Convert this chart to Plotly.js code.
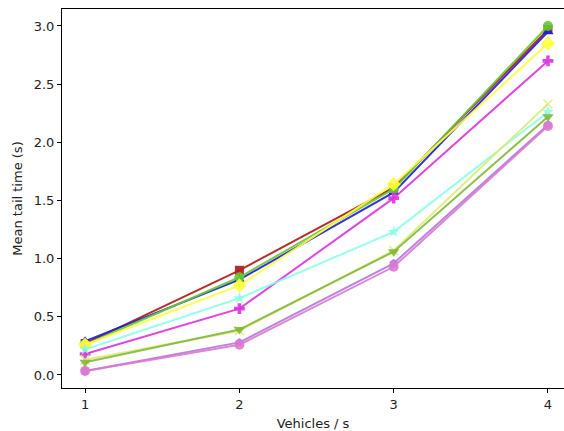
<!DOCTYPE html>
<html>
<head>
<meta charset="utf-8">
<script src="https://cdn.plot.ly/plotly-3.0.1.min.js"></script>
<style>html,body{margin:0;padding:0;background:#fff;}#chart{width:564px;height:431px;}</style>
</head>
<body>
<div id="chart"></div>
<script>
const xValues = [1, 2, 3, 4];
const seriesRed     = [0.27, 0.90, 1.61, 2.97];
const seriesBlue    = [0.29, 0.82, 1.57, 2.95];
const seriesGreen   = [0.26, 0.84, 1.60, 3.00];
const seriesYellow  = [0.26, 0.77, 1.64, 2.85];
const seriesMagenta = [0.18, 0.57, 1.52, 2.70];
const seriesCyan    = [0.22, 0.66, 1.23, 2.26];
const seriesKhaki   = [0.13, 0.38, 1.07, 2.33];
const seriesOlive   = [0.11, 0.39, 1.06, 2.22];
const seriesViolet  = [0.035, 0.28, 0.96, 2.15];
const seriesOrchid  = [0.035, 0.26, 0.93, 2.14];
const yTickVals = [0, 0.5, 1, 1.5, 2, 2.5, 3];
const yTickText = ["0.0", "0.5", "1.0", "1.5", "2.0", "2.5", "3.0"];
const xTickVals = [1, 2, 3, 4];
const xTickText = ["1", "2", "3", "4"];

const defs = [
  [seriesRed, 'rgba(178,34,34,0.95)', 'square', 9],
  [seriesBlue, 'rgba(30,30,210,0.9)', 'triangle-up', 10],
  [seriesGreen, 'rgba(100,200,50,0.9)', 'circle', 10],
  [seriesYellow, 'rgba(255,255,60,0.9)', 'diamond', 11],
  [seriesMagenta, 'rgba(220,50,220,0.9)', 'cross', 9],
  [seriesCyan, 'rgba(130,255,230,0.85)', 'star', 9],
  [seriesKhaki, 'rgba(220,235,120,0.9)', 'x-thin-open', 9],
  [seriesOlive, 'rgba(130,185,60,0.9)', 'triangle-down', 10],
  [seriesViolet, 'rgba(180,120,220,0.9)', 'pentagon', 9],
  [seriesOrchid, 'rgba(220,120,210,0.9)', 'circle', 10]
];
const traces = defs.map(d => ({
  x: xValues, y: d[0], type: 'scatter', mode: 'lines+markers',
  line: {color: d[1], width: 2},
  marker: {symbol: d[2], size: d[3], color: d[1], line: {color: d[1], width: d[2].indexOf('open')>=0 ? 1.5 : 0}},
  showlegend: false
}));

const font = {family: 'DejaVu Sans, sans-serif', size: 13, color: '#222'};
Plotly.newPlot('chart', traces, {
  width: 564, height: 431,
  margin: {l: 62, r: 0, t: 9, b: 43},
  paper_bgcolor: '#fff', plot_bgcolor: '#fff',
  font: font,
  xaxis: {
    range: [0.85, 4.104], tickvals: xTickVals, ticktext: xTickText,
    showgrid: false, zeroline: false, showline: true, mirror: true, linecolor: '#000', linewidth: 1,
    ticks: 'outside', ticklen: 4, tickcolor: '#000',
    title: {text: 'Vehicles / s', font: font, standoff: 9}
  },
  yaxis: {
    range: [-0.112, 3.146], tickvals: yTickVals, ticktext: yTickText,
    showgrid: false, zeroline: false, showline: true, mirror: true, linecolor: '#000', linewidth: 1,
    ticks: 'outside', ticklen: 4, tickcolor: '#000',
    title: {text: 'Mean tail time (s)', font: font, standoff: 8}
  }
}, {displayModeBar: false, staticPlot: true});
</script>
</body>
</html>
